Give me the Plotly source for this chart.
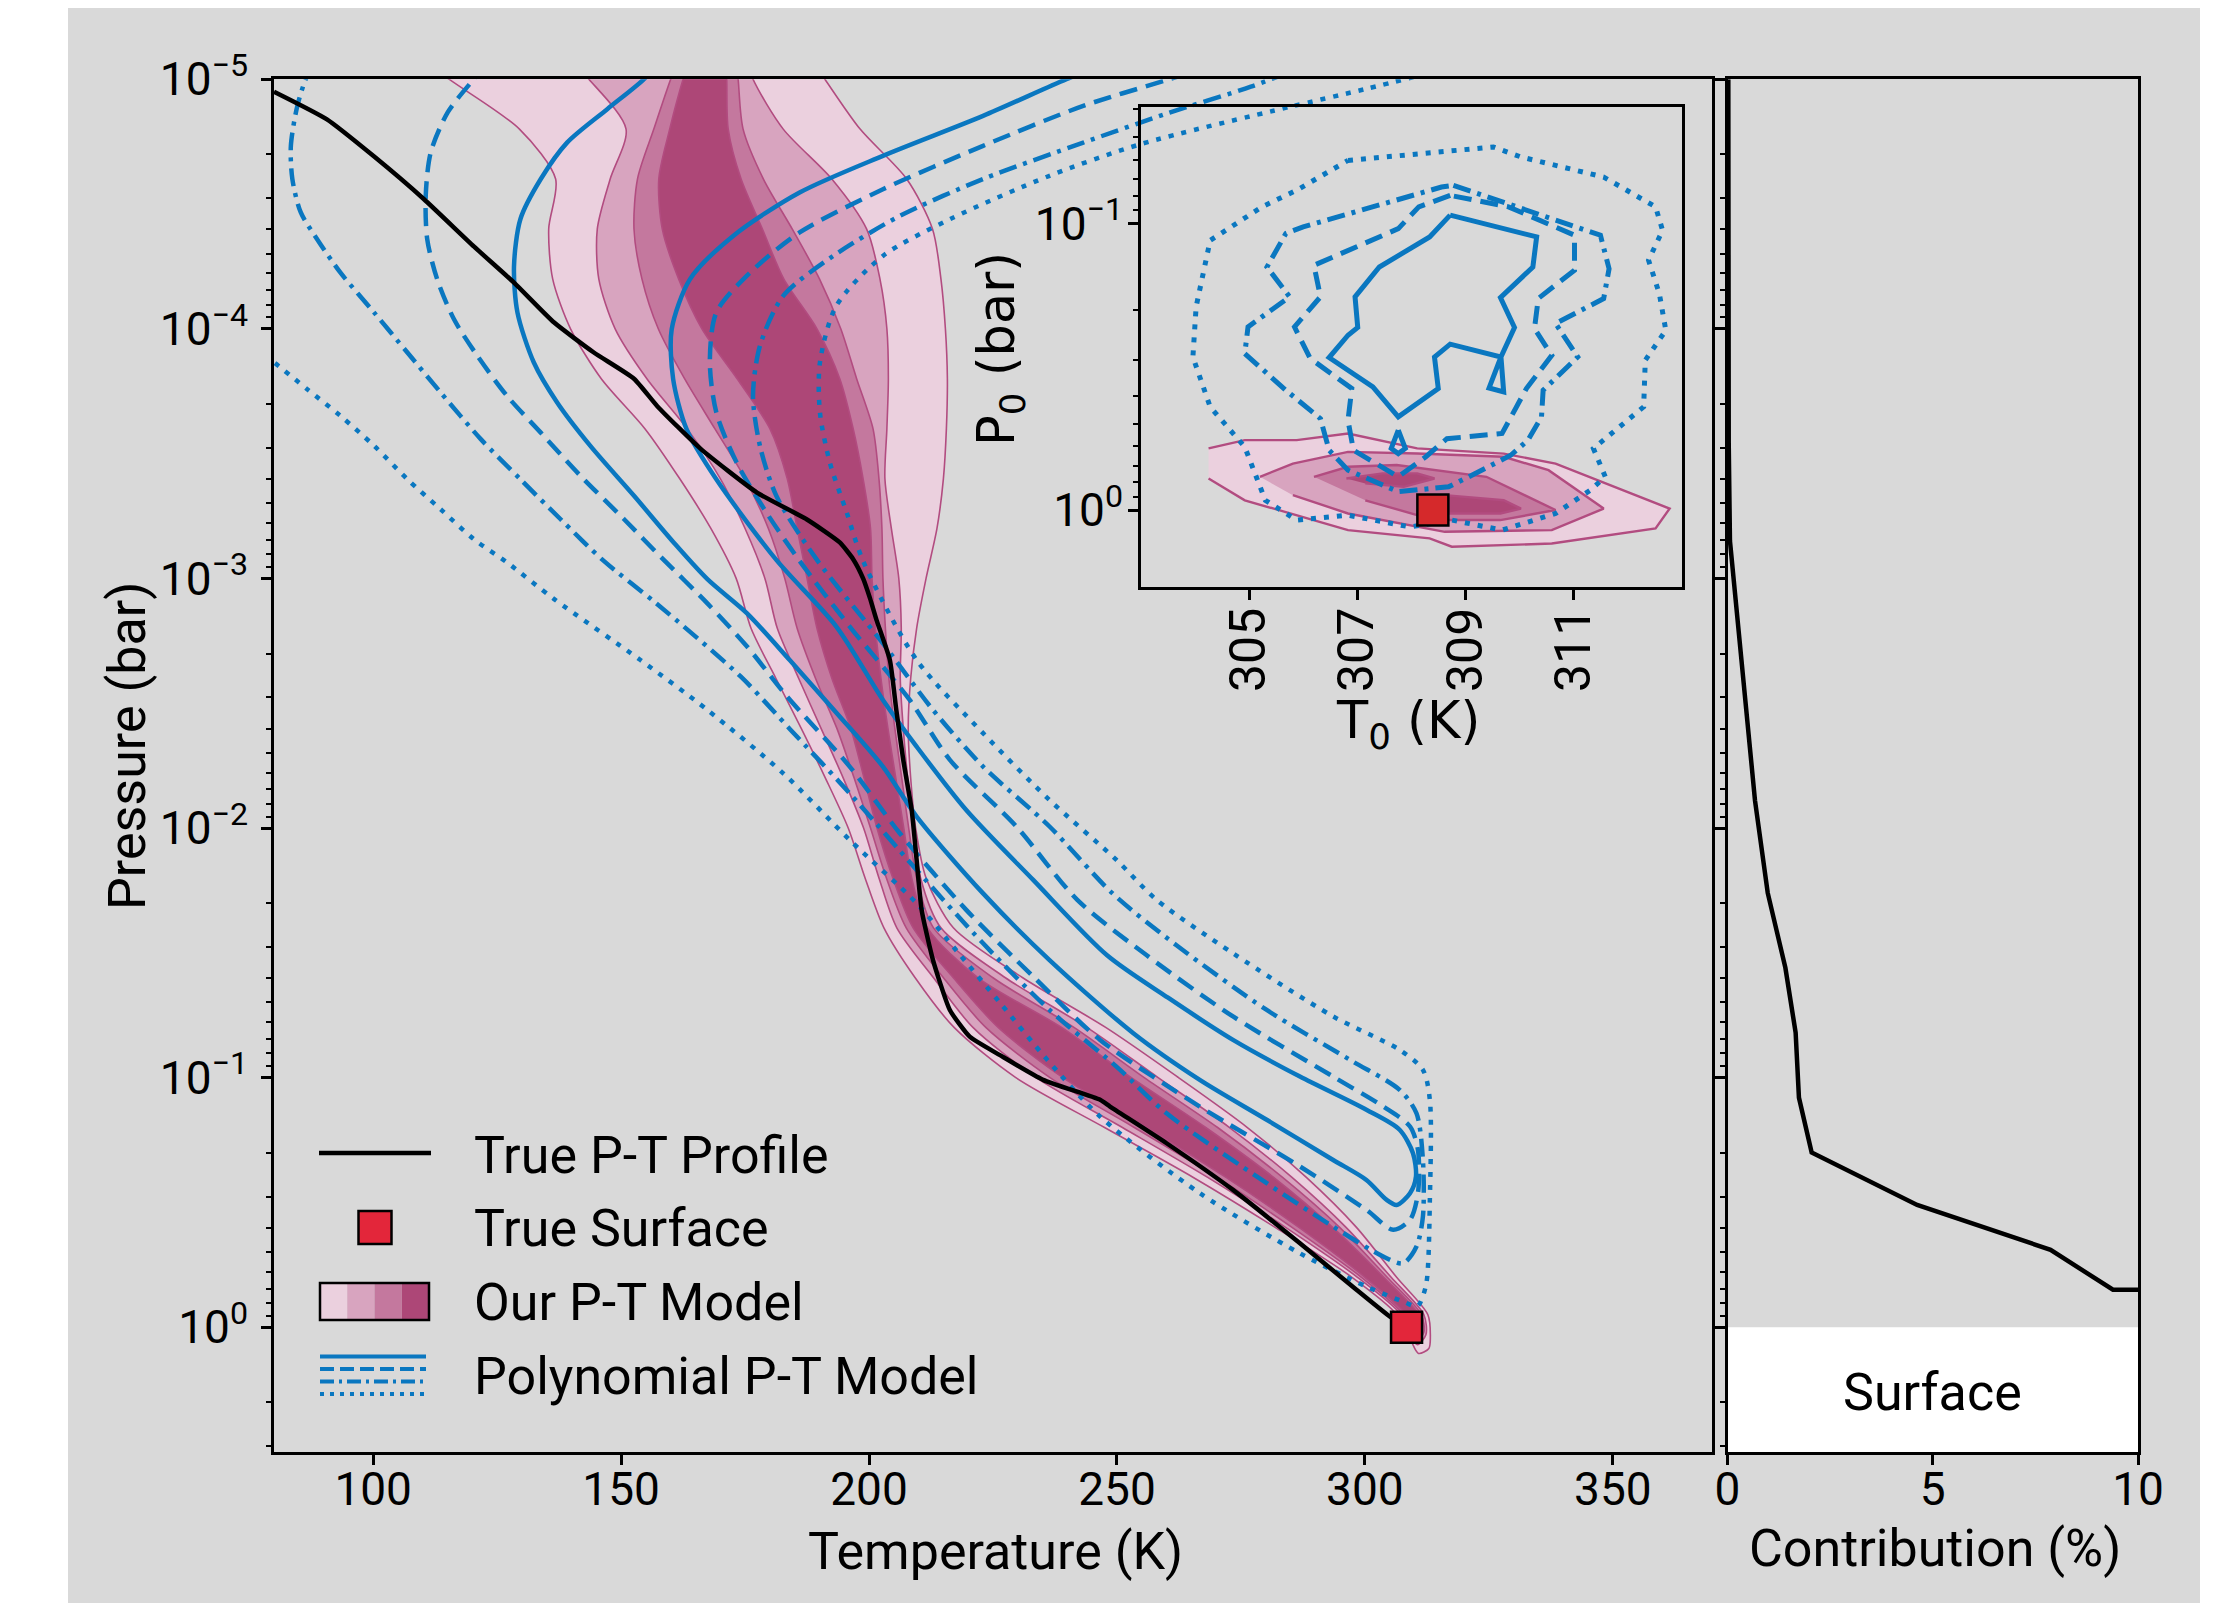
import plotly.graph_objects as go

W, H = 2239, 1603
PAGE_OFFSET = 8  # browser body margin; layout positions are given in window pixels

# ------------------------------------------------------------------ data
# True P-T profile (T in K, log10 P in bar)
true_T = [80, 90.6, 100.2, 110.2, 120.3, 128.4, 136.5, 144.5, 152.6, 157.3, 166.0, 177.4,
          187.4, 194.1, 196.8, 198.8, 200.2, 201.5, 204.2, 205.5, 206.9, 208.6, 209.6, 210.6,
          212.9, 216.3, 220.3, 226.4, 235.1, 246.6, 248.6, 260.0, 273.4, 286.9, 298.3, 305.0, 308.4]
true_logp = [-4.95, -4.84, -4.69, -4.52, -4.33, -4.185, -4.025, -3.905, -3.80, -3.69, -3.52, -3.344,
             -3.237, -3.144, -3.077, -3.0, -2.92, -2.834, -2.673, -2.473, -2.273, -2.072, -1.872, -1.672,
             -1.471, -1.271, -1.164, -1.09, -0.991, -0.911, -0.884, -0.737, -0.55, -0.336, -0.15, -0.043, 0.0]

surface_T = 308.4
surface_P = 1.0

# "Our P-T model" credible bands: left / right temperature edges at log10 P levels
band_logp = [-5.15, -5.0, -4.8, -4.6, -4.4, -4.2, -4.0, -3.8, -3.6, -3.4, -3.2, -3.0, -2.8, -2.6,
             -2.4, -2.2, -2.0, -1.8, -1.6, -1.4, -1.2, -1.0, -0.8, -0.6, -0.4, -0.2, -0.05]
band1_left = [105, 115.3, 129.5, 136.8, 135.4, 136.2, 139.8, 146.0, 154.8, 161.8, 168.1, 173.2, 176.2, 181.2,
              186.3, 191.2, 195.8, 199.2, 203.0, 209.3, 217.2, 229.6, 247.5, 265.4, 281.9, 297.4, 306.5]
band1_right = [186.0, 191.1, 198.2, 207.6, 212.8, 214.5, 215.4, 215.8, 215.6, 215.0, 213.7, 211.5, 209.6, 208.4,
               207.9, 208.4, 209.4, 211.5, 217.0, 231.0, 247.8, 262.4, 276.3, 288.2, 298.3, 306.4, 312.7]
band1_tip_T = [309.2, 310.8, 312.9, 313.2]
band1_tip_logp = [0.05, 0.105, 0.085, 0.04]
band2_left = [136.0, 143.5, 151.0, 147.8, 145.2, 145.5, 148.8, 155.2, 163.3, 170.0, 175.0, 179.0, 181.5, 185.8,
              190.3, 194.8, 198.9, 202.0, 205.6, 213.0, 221.0, 233.7, 251.1, 268.3, 284.0, 298.5, 307.3]
band2_right = [174.0, 176.6, 182.7, 192.5, 199.5, 202.2, 203.6, 203.9, 203.6, 203.2, 204.5, 206.0, 206.5, 206.3,
               206.9, 207.8, 209.0, 210.4, 214.5, 227.5, 244.0, 258.3, 272.7, 285.3, 296.2, 305.3, 311.9]
band2_tip_T = [309.3, 310.6, 312.3]
band2_tip_logp = [0.04, 0.07, 0.03]
band3_left = [163.0, 160.0, 156.6, 153.3, 152.6, 154.2, 157.5, 162.8, 168.9, 175.0, 179.7, 183.0, 185.5, 189.2,
              193.5, 197.0, 200.3, 203.5, 207.5, 215.0, 223.6, 236.5, 253.5, 270.2, 285.3, 299.3, 307.8]
band3_right = [172.8, 173.6, 174.6, 178.7, 184.5, 190.0, 194.3, 197.5, 200.8, 202.0, 202.6, 202.8, 203.3, 204.0,
               205.2, 206.6, 208.0, 209.6, 213.0, 225.0, 241.4, 255.5, 270.3, 283.4, 294.9, 304.5, 311.4]
band3_tip_T = [309.6, 310.7, 311.9]
band3_tip_logp = [0.03, 0.05, 0.02]
band4_left = [165.0, 162.5, 159.8, 157.6, 158.3, 161.6, 166.3, 173.4, 180.0, 183.5, 185.5, 187.5, 189.5, 192.5,
              196.3, 199.0, 201.6, 204.8, 208.9, 217.0, 226.1, 239.1, 255.9, 272.0, 286.7, 300.0, 308.3]
band4_right = [171.0, 171.3, 171.6, 174.2, 178.5, 182.8, 189.5, 194.1, 196.8, 198.8, 200.3, 200.6, 201.3, 202.4,
               203.8, 205.4, 207.0, 208.6, 211.8, 222.0, 238.9, 252.9, 267.9, 281.6, 293.5, 303.8, 310.9]
band4_tip_T = [309.8, 310.6, 311.5]
band4_tip_logp = [0.02, 0.035, 0.01]

# Polynomial P-T model contours (lower branch top->tip, upper branch tip->top)
solid_lower_T = [158.0, 154.6, 147.2, 139.1, 133.8, 129.7, 128.4, 129.1, 132.4, 137.1, 143.8, 152.6, 160.6, 167.4,
                 175.4, 184.0, 193.5, 202.8, 209.6, 223.0, 236.4, 253.3, 266.7, 280.2, 293.6, 300.3, 304.4, 306.4]
solid_lower_logp = [-5.08, -5.0, -4.88, -4.746, -4.6, -4.44, -4.25, -4.065, -3.865, -3.705, -3.531, -3.331, -3.144,
                    -2.997, -2.86, -2.673, -2.46, -2.246, -2.046, -1.738, -1.471, -1.178, -0.991, -0.831, -0.67,
                    -0.59, -0.51, -0.49]
solid_upper_T = [309.1, 310.3, 309.7, 307.0, 300.3, 286.9, 273.4, 260.3, 248.0, 233.1, 219.6, 209.6, 202.8, 193.4,
                 181.3, 169.2, 163.2, 160.5, 160.2, 163.9, 172.6, 186.0, 202.8, 223.0, 239.8, 250.0]
solid_upper_logp = [-0.537, -0.604, -0.697, -0.791, -0.871, -1.004, -1.151, -1.32, -1.49, -1.792, -2.072, -2.326,
                    -2.513, -2.807, -3.074, -3.397, -3.598, -3.798, -3.998, -4.199, -4.372, -4.546, -4.693, -4.853,
                    -5.0, -5.08]

dashed_lower_T = [123.0, 120.3, 115.0, 111.6, 110.6, 110.9, 112.9, 116.3, 121.0, 127.0, 133.8, 141.8, 150.6, 158.3,
                  167.4, 175.4, 183.5, 196.1, 206.2, 219.6, 233.1, 246.6, 266.7, 286.9, 300.3, 305.7]
dashed_lower_logp = [-5.06, -5.0, -4.866, -4.706, -4.533, -4.359, -4.199, -4.038, -3.892, -3.731, -3.584, -3.411,
                     -3.237, -3.08, -2.9, -2.727, -2.526, -2.246, -1.979, -1.672, -1.405, -1.151, -0.884, -0.644,
                     -0.47, -0.39]
dashed_upper_T = [309.1, 310.7, 310.7, 309.1, 303.7, 293.6, 273.4, 256.0, 242.0, 229.7, 216.3, 208.2, 196.1, 186.0,
                  179.3, 173.3, 169.2, 167.9, 169.2, 176.0, 186.0, 202.8, 223.0, 243.2, 260.6, 270.0]
dashed_upper_logp = [-0.43, -0.537, -0.71, -0.804, -0.884, -1.004, -1.245, -1.49, -1.712, -2.006, -2.273, -2.513,
                     -2.807, -3.07, -3.264, -3.464, -3.665, -3.865, -4.065, -4.225, -4.386, -4.559, -4.733, -4.893,
                     -5.0, -5.06]

dashdot_lower_T = [88.0, 86.4, 84.7, 83.4, 83.7, 85.4, 88.7, 93.4, 100.2, 106.9, 113.6, 121.7, 129.7, 137.8, 146.5,
                   157.1, 174.1, 184.2, 196.1, 209.6, 223.0, 236.4, 249.9, 260.0, 280.2, 293.6, 303.7, 307.7]
dashdot_lower_logp = [-5.06, -5.0, -4.893, -4.733, -4.6, -4.466, -4.359, -4.225, -4.065, -3.905, -3.745, -3.558,
                      -3.397, -3.237, -3.07, -2.9, -2.607, -2.393, -2.139, -1.832, -1.538, -1.271, -1.044, -0.857,
                      -0.577, -0.403, -0.283, -0.256]
dashdot_upper_T = [310.4, 311.7, 311.7, 310.4, 307.0, 297.0, 280.2, 262.0, 249.0, 236.4, 223.0, 212.9, 202.8, 189.5,
                   181.3, 178.0, 176.6, 178.0, 182.7, 192.8, 206.2, 223.0, 243.2, 260.6, 277.0, 285.0]
dashdot_upper_logp = [-0.323, -0.443, -0.67, -0.857, -0.951, -1.071, -1.271, -1.53, -1.74, -2.006, -2.246, -2.473,
                      -2.74, -3.074, -3.331, -3.531, -3.731, -3.932, -4.132, -4.292, -4.452, -4.6, -4.746, -4.866,
                      -4.97, -5.03]

dotted_lower_T = [78.0, 80.0, 86.7, 93.4, 100.2, 106.9, 113.6, 120.3, 127.0, 136.5, 153.9, 167.4, 182.7, 196.1,
                  209.6, 218.0, 226.4, 236.0, 246.6, 266.7, 286.9, 300.3, 308.0, 310.4]
dotted_lower_logp = [-3.89, -3.865, -3.758, -3.651, -3.531, -3.397, -3.277, -3.157, -3.064, -2.917, -2.673, -2.473,
                     -2.219, -1.952, -1.698, -1.5, -1.3, -1.07, -0.844, -0.537, -0.296, -0.163, -0.1, -0.083]
dotted_upper_T = [311.1, 312.4, 313.1, 313.1, 311.7, 307.0, 293.6, 273.4, 258.0, 249.9, 236.4, 223.0, 209.6, 198.8,
                  195.5, 192.1, 190.1, 190.1, 193.4, 202.8, 216.3, 236.4, 254.8, 284.6, 300.0, 312.0]
dotted_upper_logp = [-0.096, -0.176, -0.51, -0.911, -1.031, -1.111, -1.245, -1.498, -1.712, -1.872, -2.112, -2.38,
                     -2.673, -3.07, -3.264, -3.464, -3.665, -3.865, -4.092, -4.292, -4.439, -4.613, -4.74, -4.888,
                     -4.96, -5.02]

# Contribution function (right panel)
contrib_pct = [0.02, 0.02, 0.03, 0.06, 0.67, 0.98, 1.41, 1.66, 1.74, 2.05, 4.62, 7.87, 9.39, 10.5]
contrib_logp = [-5.0, -4.0, -3.54, -3.15, -2.11, -1.74, -1.44, -1.18, -0.92, -0.70, -0.49, -0.31, -0.15, -0.15]
surface_label_logp = 0.26

# Inset: T0 - P0 posterior contours
inset_p1_T = [304.25, 304.92, 305.88, 306.83, 308.11, 309.71, 310.67, 312.78, 312.52, 310.60, 308.75, 308.34, 306.83, 304.92, 304.25]
inset_p1_logp = [-0.215, -0.244, -0.244, -0.267, -0.215, -0.197, -0.162, -0.005, 0.064, 0.117, 0.128, 0.099, 0.070, -0.034, -0.110]
inset_p2_T = [305.20, 305.81, 306.83, 308.11, 309.71, 310.54, 311.56, 310.60, 308.62, 306.83, 305.81]
inset_p2_logp = [-0.116, -0.162, -0.203, -0.197, -0.186, -0.139, -0.005, 0.070, 0.076, 0.012, -0.052]
inset_p3_T = [306.20, 306.83, 307.73, 309.39, 310.67, 309.65, 308.43, 307.15]
inset_p3_logp = [-0.116, -0.151, -0.157, -0.116, 0.0, 0.035, 0.035, -0.034]
inset_p4a_T = [306.80, 307.47, 308.11, 308.43, 307.86, 307.15]
inset_p4a_logp = [-0.110, -0.128, -0.128, -0.110, -0.081, -0.093]
inset_p4b_T = [308.62, 309.71, 310.03, 309.65, 308.62]
inset_p4b_logp = [-0.052, -0.034, -0.005, 0.012, 0.012]

inset_solid_T = [308.72, 310.32, 310.25, 309.65, 309.91, 309.66, 309.71, 309.44, 309.66, 308.72, 308.43, 308.50,
                 307.76, 307.29, 306.48, 306.83, 307.01, 306.96, 307.41, 307.93, 308.34, 308.72]
inset_solid_logp = [-1.029, -0.953, -0.848, -0.741, -0.637, -0.534, -0.412, -0.426, -0.534, -0.579, -0.534, -0.424,
                    -0.325, -0.430, -0.532, -0.610, -0.637, -0.744, -0.848, -0.904, -0.953, -1.029]
inset_island_T = [307.76, 307.63, 307.76, 307.89, 307.76]
inset_island_logp = [-0.279, -0.215, -0.197, -0.215, -0.279]
inset_dashed_T = [308.72, 308.14, 307.76, 306.20, 306.32, 305.84, 306.13, 306.90, 306.83, 306.93, 307.76, 308.27,
                  308.66, 309.68, 310.13, 310.60, 310.28, 310.35, 311.02, 311.02, 309.80, 308.72]
inset_dashed_logp = [-1.098, -1.058, -0.982, -0.854, -0.744, -0.639, -0.529, -0.424, -0.313, -0.209, -0.116, -0.186,
                     -0.249, -0.267, -0.424, -0.540, -0.633, -0.738, -0.837, -0.959, -1.058, -1.098]
inset_dashdot_T = [308.78, 309.77, 311.50, 311.66, 311.56, 310.67, 311.08, 310.44, 310.41, 310.16, 309.84, 309.13,
                   308.69, 307.76, 306.83, 306.48, 306.32, 305.68, 304.92, 304.98, 305.75, 305.33, 305.68, 306.00,
                   308.56, 308.78]
inset_dashdot_logp = [-1.133, -1.069, -0.959, -0.842, -0.738, -0.651, -0.534, -0.418, -0.325, -0.244, -0.191, -0.122,
                      -0.081, -0.064, -0.139, -0.209, -0.319, -0.418, -0.546, -0.639, -0.744, -0.848, -0.965, -0.988,
                      -1.127, -1.133]
inset_dotted_T = [306.83, 309.52, 310.03, 311.56, 312.52, 312.65, 312.39, 312.59, 312.71, 312.33, 312.30, 311.37,
                  311.59, 311.31, 310.67, 309.68, 308.75, 307.98, 306.83, 305.88, 305.30, 304.92, 304.28, 303.96,
                  304.02, 304.28, 305.24, 305.88, 306.83]
inset_dotted_logp = [-1.220, -1.267, -1.232, -1.162, -1.058, -0.976, -0.872, -0.755, -0.627, -0.523, -0.360, -0.215,
                     -0.116, -0.069, 0.012, 0.070, 0.035, 0.059, 0.018, 0.035, -0.034, -0.220, -0.360, -0.534,
                     -0.709, -0.941, -1.058, -1.116, -1.220]

# axis ticks
main_T_ticks = [100, 150, 200, 250, 300, 350]
p_tick_exp = [-5, -4, -3, -2, -1, 0]
contrib_ticks = [0, 5, 10]
inset_T_ticks = [305, 307, 309, 311]
inset_p_tick_exp = [-1, 0]

legend_labels = ["True P-T Profile", "True Surface", "Our P-T Model", "Polynomial P-T Model"]

# ------------------------------------------------------------------ style
BG = "#d9d9d9"
BLUE = "#0a77c0"
PINKS = ["#ebd0de", "#d8a4bf", "#c4789e", "#ad4777"]
PINK_EDGE = "#b24c80"
RED = "#e3263a"
RED_INSET = "#d5292b"
FONT = "Roboto"
FS = 46      # tick labels
FS_TXT = 52  # titles, legend, surface label
LW = 4.5
DASHES = {"solid": "solid", "dash": "18px,9px", "dashdot": "18px,7px,4px,7px", "dot": "5px,8px"}


def P(vals):
    return [10 ** v for v in vals]


def px(x):
    return (x - PAGE_OFFSET) / W


def py(y):
    return 1 - (y - PAGE_OFFSET) / H


fig = go.Figure()

# ---------------- main panel: bands
bands = [
    (band1_left, band1_right, band1_tip_T, band1_tip_logp),
    (band2_left, band2_right, band2_tip_T, band2_tip_logp),
    (band3_left, band3_right, band3_tip_T, band3_tip_logp),
    (band4_left, band4_right, band4_tip_T, band4_tip_logp),
]
for (left, right, tipT, tipP), col in zip(bands, PINKS):
    xs = left + tipT + right[::-1]
    ys = band_logp + tipP + band_logp[::-1]
    fig.add_trace(go.Scatter(x=xs, y=P(ys), mode="lines", fill="toself", fillcolor=col,
                             line=dict(color=PINK_EDGE, width=1.6, shape="spline", smoothing=0.8),
                             xaxis="x", yaxis="y", hoverinfo="skip", showlegend=False))

# ---------------- main panel: polynomial contours
contours = [
    (solid_lower_T + solid_upper_T, solid_lower_logp + solid_upper_logp, "solid"),
    (dashed_lower_T + dashed_upper_T, dashed_lower_logp + dashed_upper_logp, "dash"),
    (dashdot_lower_T + dashdot_upper_T, dashdot_lower_logp + dashdot_upper_logp, "dashdot"),
    (dotted_lower_T + dotted_upper_T, dotted_lower_logp + dotted_upper_logp, "dot"),
]
for xs, ys, d in contours:
    fig.add_trace(go.Scatter(x=xs, y=P(ys), mode="lines",
                             line=dict(color=BLUE, width=LW, dash=DASHES[d], shape="spline", smoothing=0.8),
                             xaxis="x", yaxis="y", hoverinfo="skip", showlegend=False))

# ---------------- main panel: true profile and surface
fig.add_trace(go.Scatter(x=true_T, y=P(true_logp), mode="lines",
                         line=dict(color="black", width=LW, shape="spline", smoothing=0.5),
                         xaxis="x", yaxis="y", hoverinfo="skip", showlegend=False))
fig.add_trace(go.Scatter(x=[surface_T], y=[surface_P], mode="markers",
                         marker=dict(symbol="square", size=31, color=RED, line=dict(color="black", width=2.5)),
                         xaxis="x", yaxis="y", hoverinfo="skip", showlegend=False))

# ---------------- right panel
fig.add_trace(go.Scatter(x=[contrib_ticks[0], contrib_ticks[-1], contrib_ticks[-1], contrib_ticks[0]],
                         y=[surface_P, surface_P, 10 ** 0.6, 10 ** 0.6], mode="lines", fill="toself",
                         fillcolor="white", line=dict(width=0), xaxis="x2", yaxis="y2",
                         hoverinfo="skip", showlegend=False))
fig.add_trace(go.Scatter(x=contrib_pct, y=P(contrib_logp), mode="lines",
                         line=dict(color="black", width=LW), xaxis="x2", yaxis="y2",
                         hoverinfo="skip", showlegend=False))

# ---------------- inset
for xs, ys, col in [(inset_p1_T, inset_p1_logp, PINKS[0]), (inset_p2_T, inset_p2_logp, PINKS[1]),
                    (inset_p3_T, inset_p3_logp, PINKS[2]), (inset_p4a_T, inset_p4a_logp, PINKS[3]),
                    (inset_p4b_T, inset_p4b_logp, PINKS[3])]:
    fig.add_trace(go.Scatter(x=xs, y=P(ys), mode="lines", fill="toself", fillcolor=col,
                             line=dict(color=PINK_EDGE, width=2.4), xaxis="x3", yaxis="y3",
                             hoverinfo="skip", showlegend=False))
for xs, ys, d in [(inset_solid_T, inset_solid_logp, "solid"), (inset_island_T, inset_island_logp, "solid"),
                  (inset_dashed_T, inset_dashed_logp, "dash"), (inset_dashdot_T, inset_dashdot_logp, "dashdot"),
                  (inset_dotted_T, inset_dotted_logp, "dot")]:
    fig.add_trace(go.Scatter(x=xs, y=P(ys), mode="lines",
                             line=dict(color=BLUE, width=5, dash=DASHES[d]), xaxis="x3", yaxis="y3",
                             hoverinfo="skip", showlegend=False))
fig.add_trace(go.Scatter(x=[surface_T], y=[surface_P], mode="markers",
                         marker=dict(symbol="square", size=31, color=RED_INSET, line=dict(color="black", width=2.5)),
                         xaxis="x3", yaxis="y3", hoverinfo="skip", showlegend=False))

# ------------------------------------------------------------------ axes
def minor_vals(e0, e1):
    return [m * 10 ** e for e in range(e0, e1 + 1) for m in range(2, 10)]


common = dict(showgrid=False, zeroline=False, showline=True, linecolor="black", linewidth=2.5,
              mirror=True, ticks="outside", tickcolor="black", tickwidth=2.5, ticklen=10,
              automargin=False, tickfont=dict(family=FONT, size=FS, color="black"))
minor_main = dict(tickmode="array", tickvals=minor_vals(-5, 0), ticks="outside", ticklen=5,
                  tickwidth=2, tickcolor="black", showgrid=False)

dom_y_main = [py(1452), py(79.2)]
fig.update_layout(
    xaxis=dict(common, domain=[px(274), px(1712)], range=[80, 370], tickmode="array",
               tickvals=main_T_ticks, anchor="y", ticklabelstandoff=-15),
    yaxis=dict(common, domain=dom_y_main, type="log", range=[0.5, -5], tickmode="array",
               tickvals=[10 ** e for e in p_tick_exp],
               ticktext=["10<sup>\u2212%d</sup>" % -e if e < 0 else "10<sup>0</sup>" for e in p_tick_exp],
               minor=minor_main, anchor="x", ticklabelstandoff=4),
    xaxis2=dict(common, domain=[px(1727.5), px(2138)], range=[0, 10], tickmode="array",
                tickvals=contrib_ticks, anchor="y2", ticklabelstandoff=-15),
    yaxis2=dict(common, domain=dom_y_main, type="log", range=[0.5, -5], tickmode="array",
                tickvals=[10 ** e for e in p_tick_exp], showticklabels=False, minor=minor_main, anchor="x2"),
    xaxis3=dict(common, domain=[px(1141), px(1681.5)], range=[303, 313], tickmode="array",
                tickvals=inset_T_ticks, tickangle=-90, anchor="y3", ticklabelstandoff=-12,
                tickfont=dict(family=FONT, size=50, color="black")),
    yaxis3=dict(common, domain=[py(587), py(107)], type="log", range=[0.2686, -1.4064], tickmode="array",
                tickvals=[10 ** e for e in inset_p_tick_exp],
                ticktext=["10<sup>\u22121</sup>", "10<sup>0</sup>"],
                minor=dict(minor_main, tickvals=minor_vals(-2, -1)), anchor="x3", ticklabelstandoff=-4),
)

# ------------------------------------------------------------------ decorations
shapes = [
    dict(type="rect", xref="paper", yref="paper", x0=px(68), x1=px(2200), y0=0, y1=1,
         fillcolor=BG, line=dict(width=0), layer="below"),
    # legend glyphs
    dict(type="line", xref="paper", yref="paper", x0=px(319), x1=px(431), y0=py(1153), y1=py(1153),
         line=dict(color="black", width=LW)),
    dict(type="rect", xref="paper", yref="paper", x0=px(358.5), x1=px(391.5), y0=py(1244), y1=py(1211),
         fillcolor=RED, line=dict(color="black", width=2.5)),
]
edges = [320, 347.25, 374.5, 401.75, 429]
for i, col in enumerate(PINKS):
    shapes.append(dict(type="rect", xref="paper", yref="paper", x0=px(edges[i]), x1=px(edges[i + 1]),
                       y0=py(1320), y1=py(1283), fillcolor=col, line=dict(width=0)))
shapes.append(dict(type="rect", xref="paper", yref="paper", x0=px(320), x1=px(429), y0=py(1320), y1=py(1283),
                   line=dict(color="black", width=2.5)))
for yy, d in zip([1356.6, 1369, 1381.5, 1394], ["solid", "dash", "dashdot", "dot"]):
    dd = {"solid": "solid", "dash": "14px,6px", "dashdot": "14px,5px,3px,5px", "dot": "4px,6px"}[d]
    shapes.append(dict(type="line", xref="paper", yref="paper", x0=px(320), x1=px(426), y0=py(yy), y1=py(yy),
                       line=dict(color=BLUE, width=4, dash=dd)))

ann = []
for label, yy in zip(legend_labels, [1155, 1228, 1302, 1376]):
    ann.append(dict(text=label, xref="paper", yref="paper", x=px(472), y=py(yy), xanchor="left",
                    yanchor="middle", showarrow=False, font=dict(family=FONT, size=FS_TXT, color="black")))
ann += [
    dict(text="Pressure (bar)", xref="paper", yref="paper", x=px(127), y=py(746), textangle=-90,
         showarrow=False, xanchor="center", yanchor="middle", font=dict(family=FONT, size=FS_TXT, color="black")),
    dict(text="Temperature (K)", xref="paper", yref="paper", x=px(995), y=py(1551),
         showarrow=False, xanchor="center", yanchor="middle", font=dict(family=FONT, size=FS_TXT, color="black")),
    dict(text="Contribution (%)", xref="paper", yref="paper", x=px(1935), y=py(1548),
         showarrow=False, xanchor="center", yanchor="middle", font=dict(family=FONT, size=FS_TXT, color="black")),
    dict(text="P<sub>0</sub> (bar)", xref="paper", yref="paper", x=px(1000), y=py(349), textangle=-90,
         showarrow=False, xanchor="center", yanchor="middle",
         font=dict(family="DejaVu Sans", size=51, color="black")),
    dict(text="T<sub>0</sub> (K)", xref="paper", yref="paper", x=px(1408), y=py(724),
         showarrow=False, xanchor="center", yanchor="middle",
         font=dict(family="DejaVu Sans", size=51, color="black")),
    dict(text="Surface", xref="x2", yref="y2", x=5, y=surface_label_logp, showarrow=False,
         xanchor="center", yanchor="middle", font=dict(family=FONT, size=FS_TXT, color="black")),
]

fig.update_layout(
    width=W, height=H, margin=dict(l=0, r=0, t=0, b=0, pad=0, autoexpand=False),
    paper_bgcolor="white", plot_bgcolor="rgba(0,0,0,0)",
    showlegend=False, shapes=shapes, annotations=ann,
    font=dict(family=FONT, size=FS, color="black"),
)

fig.write_html("out.html", config={"displayModeBar": False})
